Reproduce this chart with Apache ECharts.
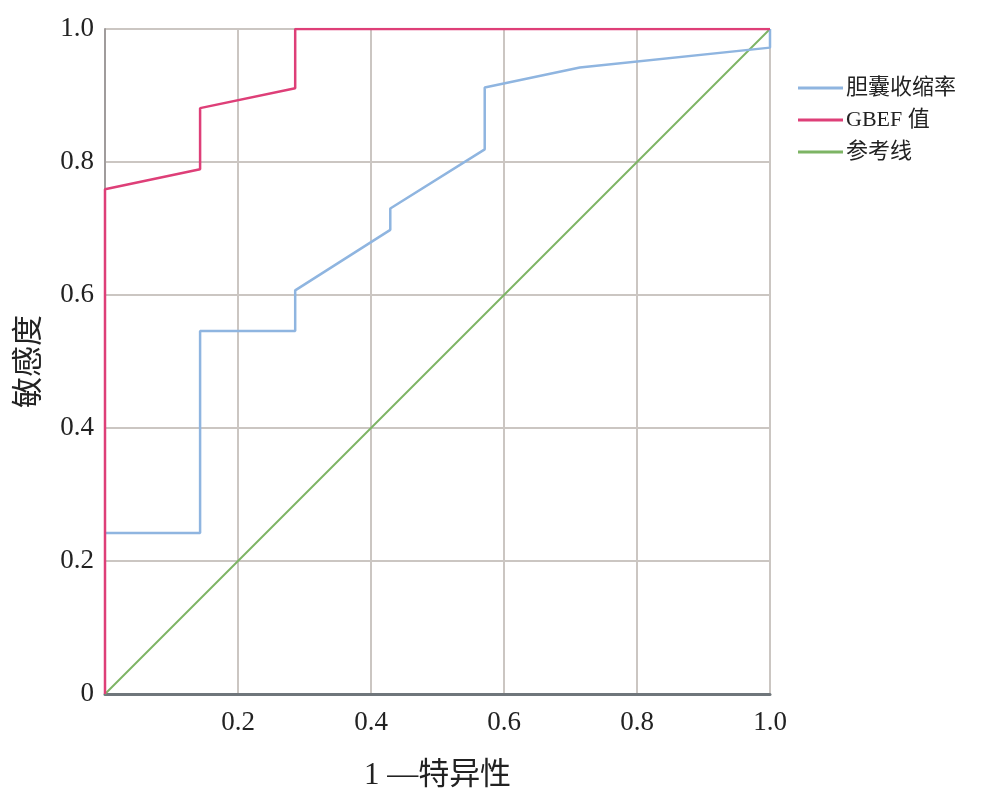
<!DOCTYPE html>
<html>
<head>
<meta charset="utf-8">
<script src="https://cdn.jsdelivr.net/npm/echarts@6/dist/echarts.min.js"></script>
<style>html,body{margin:0;padding:0;background:#fff}#c{width:981px;height:804px}</style>
</head>
<body>
<div id="c"></div>
<script>
const seriesNames = ['胆囊收缩率', 'GBEF 值', '参考线'];
const gallbladderX = [0, 0.143, 0.143, 0.286, 0.286, 0.429, 0.429, 0.571, 0.571, 0.714, 1.0, 1.0];
const gallbladderY = [0.242, 0.242, 0.546, 0.546, 0.607, 0.698, 0.730, 0.819, 0.912, 0.942, 0.972, 1.0];
const gbefX = [0, 0, 0.143, 0.143, 0.286, 0.286, 1.0];
const gbefY = [0, 0.759, 0.789, 0.881, 0.911, 1.0, 1.0];
const refX = [0, 1];
const refY = [0, 1];
const tickValues = [0, 0.2, 0.4, 0.6, 0.8, 1.0];

const zip = (xs, ys) => xs.map((x, i) => [x, ys[i]]);
const colors = ['#8fb5e0', '#de3f78', '#7db464'];
const serif = '"Liberation Serif", "Noto Sans CJK SC", serif';

const chart = echarts.init(document.getElementById('c'), null, {renderer: 'canvas'});
chart.setOption({
  animation: false,
  grid: {left: 105, right: 211, top: 29, bottom: 110, containLabel: false},
  legend: {
    orient: 'vertical', left: 793, top: 72, itemGap: 10,
    icon: 'rect', itemWidth: 45, itemHeight: 3,
    textStyle: {fontFamily: serif, fontSize: 22, color: '#222', padding: [0, 0, 0, -2]},
    data: seriesNames
  },
  xAxis: {
    type: 'value', min: 0, max: 1, interval: 0.2,
    name: '1 —特异性', nameLocation: 'middle', nameGap: 66,
    nameTextStyle: {fontFamily: serif, fontSize: 31, color: '#222'},
    axisLine: {show: true, onZero: false, lineStyle: {color: '#6f767b', width: 3}},
    axisTick: {show: false},
    axisLabel: {fontFamily: serif, fontSize: 27, color: '#222', margin: 15,
      formatter: v => v === 0 ? '' : v.toFixed(1)},
    splitLine: {show: true, lineStyle: {color: '#cbc6c2', width: 2}}
  },
  yAxis: {
    type: 'value', min: 0, max: 1, interval: 0.2,
    name: '敏感度', nameLocation: 'middle', nameGap: 60, nameRotate: 90,
    nameTextStyle: {fontFamily: serif, fontSize: 31, color: '#222'},
    axisLine: {show: true, onZero: false, lineStyle: {color: '#a09c9c', width: 2}},
    axisTick: {show: false},
    axisLabel: {fontFamily: serif, fontSize: 27, color: '#222', margin: 11,
      formatter: v => v === 0 ? '0' : v.toFixed(1)},
    splitLine: {show: true, lineStyle: {color: '#cbc6c2', width: 2}}
  },
  series: [
    {name: seriesNames[2], type: 'line', data: zip(refX, refY), showSymbol: false,
     lineStyle: {color: colors[2], width: 2}, itemStyle: {color: colors[2]}, z: 3},
    {name: seriesNames[0], type: 'line', data: zip(gallbladderX, gallbladderY), showSymbol: false,
     lineStyle: {color: colors[0], width: 2.5}, itemStyle: {color: colors[0]}, z: 4},
    {name: seriesNames[1], type: 'line', data: zip(gbefX, gbefY), showSymbol: false,
     lineStyle: {color: colors[1], width: 2.5}, itemStyle: {color: colors[1]}, z: 5}
  ]
});
</script>
</body>
</html>
